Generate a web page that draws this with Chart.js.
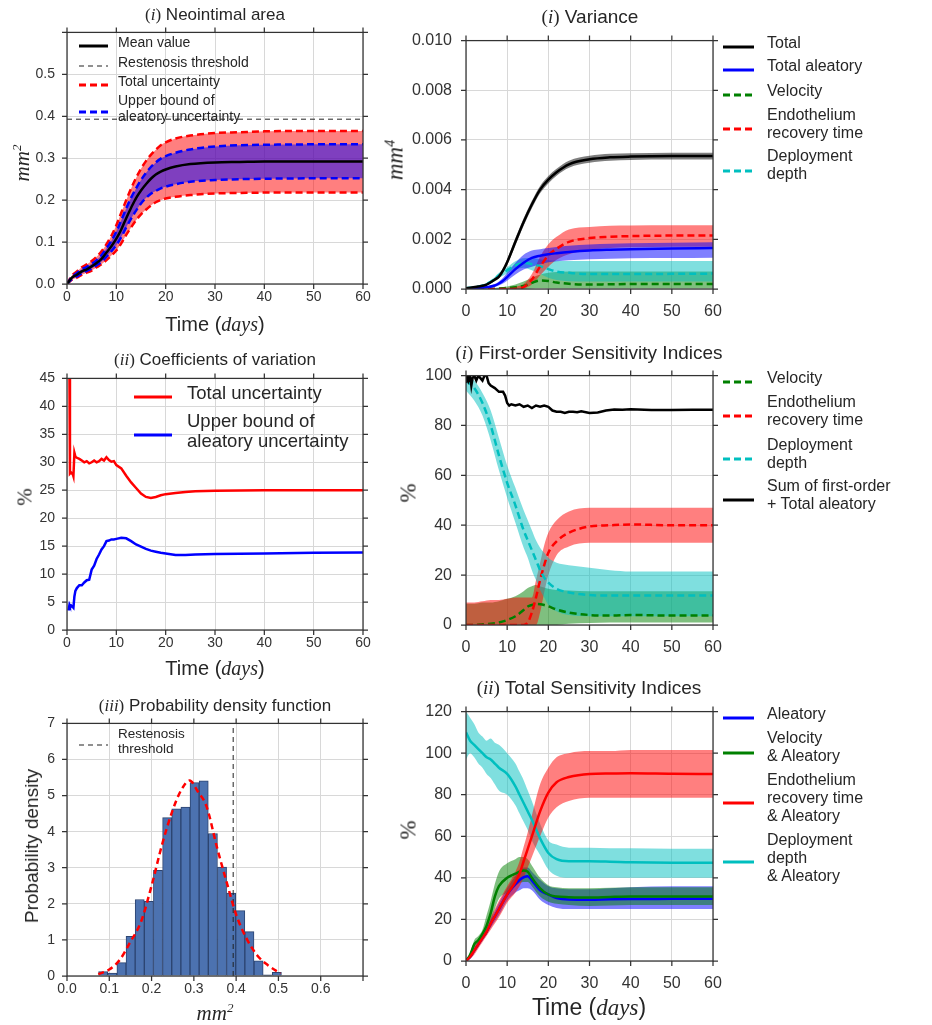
<!DOCTYPE html>
<html>
<head>
<meta charset="utf-8">
<script src="https://cdn.jsdelivr.net/npm/chart.js@4.4.1/dist/chart.umd.min.js"></script>
<style>
  body { margin: 0; width: 932px; height: 1025px; position: relative; overflow: hidden; background: #fff;
         font-family: "Liberation Sans", Arial, sans-serif; color: #262626; }
  canvas { position: absolute; }
  .txt { position: absolute; white-space: nowrap; transform: translate(-50%, -50%); }
  .rot { transform: translate(-50%, -50%) rotate(-90deg); }
  .leg { position: absolute; white-space: nowrap; }
  .m { font-family: "Liberation Serif", serif; font-style: italic; }
  .p { font-family: "Liberation Serif", serif; }
  sup { font-size: 0.62em; vertical-align: 0.55em; line-height: 0; }
</style>
</head>
<body>
<script>
// ---------- data ----------
const THRESHOLD = 0.393;

// (i) neointimal area, mm^2
const areaT = [0,1,2,3,4,5,6,7,8,9,10,11,12,13,14,15,16,17,18,19,20,22,25,30,35,40,50,60];
const areaMean = [0,0.015,0.022,0.03,0.035,0.042,0.05,0.06,0.075,0.09,0.108,0.13,0.157,0.182,0.205,0.223,0.238,0.251,0.261,0.268,0.273,0.28,0.286,0.29,0.291,0.292,0.292,0.292];
const areaTotUp = [0,0.02,0.03,0.04,0.047,0.055,0.065,0.078,0.095,0.115,0.14,0.17,0.2,0.228,0.253,0.275,0.293,0.308,0.32,0.331,0.338,0.347,0.354,0.36,0.362,0.364,0.365,0.365];
const areaTotLo = [0,0.01,0.015,0.022,0.027,0.032,0.04,0.047,0.057,0.068,0.08,0.097,0.117,0.135,0.152,0.166,0.177,0.187,0.195,0.2,0.204,0.208,0.212,0.216,0.217,0.218,0.218,0.218];
const areaAleUp = [0,0.017,0.026,0.035,0.041,0.048,0.057,0.069,0.085,0.103,0.125,0.152,0.18,0.206,0.228,0.248,0.265,0.279,0.29,0.299,0.305,0.313,0.321,0.328,0.331,0.332,0.333,0.333];
const areaAleLo = [0,0.012,0.018,0.025,0.031,0.037,0.045,0.053,0.065,0.078,0.093,0.112,0.135,0.156,0.175,0.192,0.205,0.215,0.222,0.228,0.232,0.238,0.244,0.248,0.25,0.251,0.252,0.252];
const areaLabels = ['Mean value', 'Restenosis threshold', 'Total uncertainty', 'Upper bound of<br>aleatory uncertainty'];

// (i) variance, mm^4
const varT = [0,3,5,7,8,9,10,12,14,16,18,20,22,25,30,35,40,50,60];
const varTotal = [0.00003,0.0001,0.00018,0.00038,0.0005,0.00075,0.00108,0.0019,0.0027,0.0034,0.004,0.0044,0.0047,0.00502,0.00522,0.0053,0.00533,0.00535,0.00535];
const varTotalUp = [0.00005,0.00013,0.00022,0.00044,0.00058,0.00085,0.0012,0.00205,0.00285,0.00355,0.00415,0.00455,0.00484,0.00516,0.00536,0.00544,0.00547,0.00549,0.00549];
const varTotalLo = [0.00001,0.00007,0.00014,0.00032,0.00042,0.00065,0.00096,0.00175,0.00255,0.00325,0.00385,0.00425,0.00456,0.00488,0.00508,0.00516,0.00519,0.00521,0.00521];
const varAle = [0.00002,0.00004,0.00007,0.00014,0.00022,0.00033,0.00048,0.0008,0.00106,0.00125,0.00134,0.0014,0.00144,0.00149,0.00155,0.00158,0.0016,0.00163,0.00165];
const varAleUp = [0.00003,0.00006,0.0001,0.0002,0.0003,0.00045,0.00065,0.00105,0.00138,0.00155,0.0016,0.00165,0.00169,0.00174,0.00179,0.00182,0.00184,0.00186,0.00188];
const varAleLo = [0.00001,0.00002,0.00004,0.00009,0.00014,0.00022,0.00033,0.00058,0.00078,0.0009,0.001,0.00108,0.00112,0.00116,0.0012,0.00122,0.00124,0.00125,0.00126];
const varVel = [0,0,0,0.00001,0.00002,0.00003,0.00004,0.00007,0.00012,0.00025,0.00034,0.00032,0.00026,0.00021,0.00018,0.00019,0.0002,0.0002,0.0002];
const varVelUp = [0,0.00001,0.00002,0.00004,0.00006,0.00008,0.0001,0.00018,0.0003,0.00045,0.00058,0.00065,0.00068,0.0007,0.0007,0.0007,0.0007,0.0007,0.0007];
const varVelLo = [0,0,0,0,0,0,0,0,0,0.00002,0.00003,0.00002,0.00002,0.00002,0.00002,0.00002,0.00002,0.00002,0.00002];
const varEndo = [0,0,0,0,0,0,0,0.00001,0.00008,0.00038,0.0009,0.00135,0.00162,0.0019,0.00205,0.0021,0.00213,0.00215,0.00215];
const varEndoUp = [0,0,0,0,0,0,0.00005,0.0001,0.0002,0.0006,0.0013,0.0018,0.0021,0.0024,0.0025,0.00255,0.00256,0.00257,0.00257];
const varEndoLo = [0,0,0,0,0,0,0,0,0.00002,0.00018,0.00055,0.0009,0.00118,0.0014,0.00158,0.00165,0.00168,0.0017,0.0017];
const varDepl = [0.00003,0.0001,0.0002,0.0004,0.00055,0.00065,0.00075,0.00095,0.00105,0.001,0.00092,0.0008,0.0007,0.00065,0.0006,0.0006,0.0006,0.00061,0.00062];
const varDeplUp = [0.00004,0.00013,0.00025,0.00048,0.00065,0.00077,0.00088,0.00112,0.00124,0.00125,0.0012,0.00116,0.00114,0.00113,0.00113,0.00113,0.00113,0.00113,0.00113];
const varDeplLo = [0.00002,0.00007,0.00015,0.00032,0.00045,0.00053,0.00062,0.00078,0.00086,0.00075,0.0006,0.00045,0.00036,0.00031,0.0003,0.0003,0.0003,0.0003,0.0003];
const varLabels = ['Total', 'Total aleatory', 'Velocity', 'Endothelium<br>recovery time', 'Deployment<br>depth'];

// (ii) coefficients of variation, %
const covT = [0.3,0.5,0.6,0.8,1,1.2,1.3,1.5,1.7,2,2.5,3,3.5,4,4.5,5,5.5,6,6.5,7,7.5,8,8.5,9,9.5,10,11,12,13,14,15,16,17,18,19,20,22,24,26,30,40,50,60];
const covTotal = [46,45,28,28.2,28,27.8,27.5,31.7,31,30.8,30.6,30.3,30,30.2,29.8,30,30.3,30,30.2,30.6,30.3,30.9,30.4,30.1,30.2,29.5,28.9,27.6,26.4,25.4,24.4,23.8,23.6,23.8,24.1,24.3,24.5,24.7,24.8,24.9,25,25,25];
const covAle = [3.5,4.5,4.3,4.4,4.2,4.1,4,6,7,7.5,8,8,8.5,8.9,9,10.8,11.5,12.7,13.5,14.4,15,15.9,16,16.2,16.2,16.3,16.5,16.4,15.9,15.3,14.9,14.5,14.2,14,13.8,13.7,13.4,13.4,13.5,13.6,13.7,13.8,13.85];
const covLabels = ['Total uncertainty', 'Upper bound of<br>aleatory uncertainty'];

// (i) first-order sensitivity indices, %
const sumT = [0,0.3,0.6,1,1.3,1.6,2,2.5,3,3.5,4,4.5,5,5.5,6,7,8,9,9.5,10,10.5,11,12,13,14,15,16,17,18,19,20,21,22,23,24,25,26,27,28,30,32,34,36,38,40,45,50,55,60];
const firstSum = [97,100,98,100,96,99,100,98,100,99,98,100,100,97,96,95,93.5,93.5,92,89,88,88.5,88,88.5,87.5,88,87,88,87.5,88,87.5,86,85.5,85.5,85,85.5,85.5,85.3,85.7,85,85.2,86,86.4,86.3,86.5,86.2,86.2,86.3,86.3];
const firstT = [0,2,4,6,8,10,12,14,15,16,17,18,19,20,22,25,30,35,40,50,60];
const firstVel = [0,0,0.3,0.5,1,2,3.5,6,7.4,8,8.4,8.3,8,7.5,6.2,5,4,3.8,4,3.8,3.8];
const firstVelUp = [8.5,8.5,9,9,9.5,10.5,11.5,13.5,14.8,15.5,16,15.5,15,14.5,14,13.8,13.5,13.5,13.5,13.5,13.5];
const firstVelLo = [0,0,0,0,0,0,0,0,0,0,0,0,0,0,0,0.5,0.8,1,1,1,1];
const firstEndo = [0,0,0,0,0,0,0,0,1,5,11,18,24,29,33.5,37,39.5,40,40.3,40,40];
const firstEndoUp = [9,9,9.5,10,10,10.5,11,11,11,11,18,25,32,37,42,45.5,47,47,47,47,47];
const firstEndoLo = [0,0,0,0,0,0,0,0,0,0,0,5,13,20,28,31.5,33,33,33,33,33];
const firstDepl = [98,95,89,80,68,57,48,38,34,30,26,22,19,17,14.5,13,12,11.8,11.8,11.8,11.8];
const firstDeplUp = [100,98,93,86,75,64,55,46,42,38,34,31,29,27,25,24,23,22,21.5,21.5,21.5];
const firstDeplLo = [94,90,84,74,62,51,41,31,27,22,18,14,11,8,5.5,4,3.5,3.5,3.5,3.5,3.5];
const firstLabels = ['Velocity', 'Endothelium<br>recovery time', 'Deployment<br>depth', 'Sum of first-order<br>+ Total aleatory'];

// (iii) probability density function
const histCenters = [0.0855,0.1071,0.1288,0.1504,0.172,0.1936,0.2152,0.2369,0.2585,0.2801,0.3017,0.3233,0.345,0.3666,0.3882,0.4098,0.4314,0.4531,0.4747,0.4963];
const histDensity = [0.12,0.08,0.37,1.1,2.12,2.07,2.93,4.39,4.63,4.68,5.36,5.41,3.95,3.02,2.3,1.81,1.23,0.42,0.03,0.1];
const pdfX = [0.074,0.1,0.125,0.15,0.175,0.2,0.225,0.25,0.27,0.29,0.31,0.33,0.355,0.38,0.4,0.425,0.45,0.475,0.505];
const pdfY = [0.05,0.18,0.45,0.95,1.5,2.5,3.65,4.6,5.15,5.42,5.1,4.7,3.55,2.5,1.7,1.03,0.57,0.3,0.07];
const pdfLabels = ['Restenosis<br>threshold'];

// (ii) total sensitivity indices, %
const totT = [0,1,2,3,4,5,6,7,8,10,12,13,14,15,16,18,20,22,25,30,35,40,50,60];
const totAle = [0,2,5,8,11,14,18,21.5,25,32,37,39,40.3,40.8,38.8,34,32,30.3,29.6,29.5,29.7,29.8,29.9,30];
const totAleUp = [0,3,6,9,12,15,20,24,28,35,41,43.5,45,45,43,39,36,35,34.5,34.5,35,35.5,36,36];
const totAleLo = [0,1,4,7,10,13,16,19,22,29,33,34,35,35,34,29.5,27,25.5,25,25,25,25,25,25];
const totVel = [0,3,8,10,13,17,23,31,36,40,42,43,43.5,43,40,35,32,31,30.7,30.5,30.8,31,31,31];
const totVelUp = [0,4,10,12,15,22,29,37,43,47,49,50,50,49,46,40,36.5,35.5,35,35,35.2,35.5,35.5,35.5];
const totVelLo = [0,2,6,8,11,13,18,25,30,33,36,37.5,38,38,36,31,28.5,27.5,27,26.5,26.7,27,27,27];
const totEndo = [0,2,5,8,11,14,18,21.5,25,32,38,42,48,54,60,72,81,86,88.5,90,90.2,90.3,90.1,90];
const totEndoUp = [1,3,7,10,13,16,21,25,29,36,43,48,55,62,70,85,93,98,100,101,101,101.5,101.5,101.5];
const totEndoLo = [0,1,3,6,9,12,15,18,21,28,33,36,40,45,50,60,69,74,77,78.5,78.5,78.5,78.5,78.5];
const totDepl = [110,106,104,102,100,98,97,95,93,90,84,80,76,72,68,59,52,49,48,48,47.8,47.5,47.3,47.3];
const totDeplUp = [120,117,114,110,108,106,107,105,104,100,95,91,87,82,77,66,58,56,54.5,54.5,54.3,54.2,54,54];
const totDeplLo = [97,100,98,95,93,90,88,85,82,80,75,71,67,63,58,51,44,41,40,40,40,40,40,40];
const totLabels = ['Aleatory', 'Velocity<br>&amp; Aleatory', 'Endothelium<br>recovery time<br>&amp; Aleatory', 'Deployment<br>depth<br>&amp; Aleatory'];

// ---------- style ----------
const C = { k: '#000000', b: '#0000ff', g: '#008000', r: '#ff0000', c: '#00bfbf' };
const FILL = { k: 'rgba(0,0,0,0.5)', b: 'rgba(0,0,255,0.5)', g: 'rgba(0,128,0,0.5)', r: 'rgba(255,0,0,0.5)', c: 'rgba(0,191,191,0.5)' };
const GRID = '#d8d8d8';
const TICKC = '#333333';
const DASH = [7, 4];

// plot areas in page pixels
const BOX = {
  area:  { l: 67,  t: 24,  r: 363, b: 284 },
  cov:   { l: 67,  t: 370, r: 363, b: 630 },
  pdf:   { l: 67,  t: 715, r: 363, b: 976 },
  vari:  { l: 466, t: 29,  r: 713, b: 289 },
  first: { l: 466, t: 364, r: 713, b: 625 },
  total: { l: 466, t: 700, r: 713, b: 961 }
};

const pts = (xs, ys) => xs.map((x, i) => ({ x: x, y: ys[i] }));

function lineDs(xs, ys, color, order, dash, width, smooth) {
  return {
    type: 'line', data: pts(xs, ys), borderColor: color, borderWidth: width || 2.5,
    borderDash: dash || [], pointRadius: 0, fill: false, order: order,
    cubicInterpolationMode: smooth === false ? 'default' : 'monotone', tension: 0
  };
}
function bandDs(xs, lo, hi, fill, order) {
  return [
    { type: 'line', data: pts(xs, hi), borderWidth: 0, pointRadius: 0, fill: '+1', backgroundColor: fill, order: order, cubicInterpolationMode: 'monotone' },
    { type: 'line', data: pts(xs, lo), borderWidth: 0, pointRadius: 0, fill: false, order: order, cubicInterpolationMode: 'monotone' }
  ];
}

// frame + outward ticks on all four sides
const framePlugin = {
  id: 'frame',
  afterDraw(chart) {
    const { ctx, chartArea: a, scales } = chart;
    ctx.save();
    ctx.strokeStyle = '#333';
    ctx.lineWidth = 1.25;
    ctx.strokeRect(a.left, a.top, a.right - a.left, a.bottom - a.top);
    ctx.beginPath();
    scales.x.ticks.forEach(t => {
      const p = scales.x.getPixelForValue(t.value);
      ctx.moveTo(p, a.bottom); ctx.lineTo(p, a.bottom + 5);
      ctx.moveTo(p, a.top); ctx.lineTo(p, a.top - 5);
    });
    scales.y.ticks.forEach(t => {
      const p = scales.y.getPixelForValue(t.value);
      ctx.moveTo(a.left, p); ctx.lineTo(a.left - 5, p);
      ctx.moveTo(a.right, p); ctx.lineTo(a.right + 5, p);
    });
    ctx.stroke();
    ctx.restore();
  }
};

function makeChart(box, o) {
  const c = document.createElement('canvas');
  c.width = box.r - box.l + 85;
  c.height = box.b - box.t + 52;
  c.style.left = (box.l - 60) + 'px';
  c.style.top = (box.t - 12) + 'px';
  document.body.appendChild(c);
  const font = { family: 'Liberation Sans', size: o.fs };
  return new Chart(c, {
    type: o.type || 'line',
    data: { datasets: o.datasets },
    options: {
      responsive: false, animation: false, events: [],
      layout: { padding: { left: 0, top: 12, right: 25, bottom: 0 } },
      plugins: { legend: { display: false }, tooltip: { enabled: false } },
      scales: {
        x: {
          type: 'linear', min: o.x[0], max: o.x[1], offset: false,
          grid: { color: GRID, drawTicks: false, offset: false }, border: { display: false },
          ticks: { stepSize: o.x[2], font: font, color: TICKC, padding: o.xpad, autoSkip: false, maxRotation: 0,
                   callback: o.xfmt || (v => v) },
          afterFit: s => { s.height = 40; }
        },
        y: {
          type: 'linear', min: o.y[0], max: o.y[1],
          grid: { color: GRID, drawTicks: false }, border: { display: false },
          ticks: { stepSize: o.y[2], font: font, color: TICKC, padding: o.ypad, autoSkip: false,
                   callback: o.yfmt || (v => v) },
          afterFit: s => { s.width = 60; }
        }
      }
    },
    plugins: [framePlugin]
  });
}

// ---------- html text helpers ----------
function addText(html, x, y, css, rot) {
  const d = document.createElement('div');
  d.className = 'txt' + (rot ? ' rot' : '');
  d.style.left = x + 'px';
  d.style.top = y + 'px';
  d.style.cssText += css;
  d.innerHTML = html;
  document.body.appendChild(d);
}
function addLegend(items, sx1, sx2, tx, fs, lh) {
  items.forEach(it => {
    const w = sx2 - sx1;
    const dash = it.dash ? `stroke-dasharray="${it.dash}"` : '';
    const s = document.createElement('div');
    s.className = 'leg';
    s.style.left = sx1 + 'px';
    s.style.top = (it.sy - 5) + 'px';
    s.innerHTML = `<svg width="${w}" height="10"><line x1="0" y1="5" x2="${w}" y2="5" stroke="${it.color}" stroke-width="${it.w || 3}" ${dash}/></svg>`;
    document.body.appendChild(s);
    const t = document.createElement('div');
    t.className = 'leg';
    t.style.left = tx + 'px';
    t.style.top = (it.ty - lh / 2) + 'px';
    t.style.fontSize = fs + 'px';
    t.style.lineHeight = lh + 'px';
    t.innerHTML = it.label;
    document.body.appendChild(t);
  });
}
const TIME = 'Time (<span class="m">days</span>)';

// ---------- (i) neointimal area ----------
makeChart(BOX.area, {
  fs: 14, xpad: 5, ypad: 12, x: [0, 60, 10], y: [0, 0.6, 0.1],
  yfmt: v => v > 0.55 ? '' : v.toFixed(1),
  datasets: [
    lineDs(areaT, areaMean, C.k, 0, [], 2.5),
    lineDs([0, 60], [THRESHOLD, THRESHOLD], '#222', 1, [5, 4], 1, false),
    lineDs(areaT, areaAleUp, C.b, 2, DASH, 2.5),
    lineDs(areaT, areaAleLo, C.b, 2, DASH, 2.5),
    lineDs(areaT, areaTotUp, C.r, 3, DASH, 2.5),
    lineDs(areaT, areaTotLo, C.r, 3, DASH, 2.5),
    ...bandDs(areaT, areaAleLo, areaAleUp, FILL.b, 4),
    ...bandDs(areaT, areaTotLo, areaTotUp, FILL.r, 5)
  ]
});
addText('<span class="p">(<i>i</i>)</span> Neointimal area', 215, 15, 'font-size:17px;');
addText(TIME, 215, 324, 'font-size:20px;');
addText('<span class="m">mm<sup>2</sup></span>', 22, 163, 'font-size:21px;', true);
addLegend([
  { label: areaLabels[0], color: C.k, sy: 42, ty: 42 },
  { label: areaLabels[1], color: '#222', dash: '5 4', w: 1.2, sy: 62, ty: 62 },
  { label: areaLabels[2], color: C.r, dash: '7 4', sy: 81, ty: 81 },
  { label: areaLabels[3], color: C.b, dash: '7 4', sy: 108, ty: 100 }
], 79, 108, 118, 14, 16);

// ---------- (ii) coefficients of variation ----------
makeChart(BOX.cov, {
  fs: 14, xpad: 5, ypad: 12, x: [0, 60, 10], y: [0, 45, 5],
  datasets: [
    lineDs(covT, covTotal, C.r, 0, [], 2.5, false),
    lineDs(covT, covAle, C.b, 1, [], 2.5, false)
  ]
});
addText('<span class="p">(<i>ii</i>)</span> Coefficients of variation', 215, 360, 'font-size:17px;');
addText(TIME, 215, 668, 'font-size:20px;');
addText('<span class="p">%</span>', 25, 497, 'font-size:21px;', true);
addLegend([
  { label: covLabels[0], color: C.r, sy: 393, ty: 393 },
  { label: covLabels[1], color: C.b, sy: 431, ty: 421 }
], 134, 172, 187, 18.5, 20);

// ---------- (iii) probability density function ----------
makeChart(BOX.pdf, {
  type: 'bar', fs: 14, xpad: 5, ypad: 12, x: [0, 0.7, 0.1], y: [0, 7, 1],
  xfmt: v => v > 0.65 ? '' : v.toFixed(1),
  datasets: [
    lineDs(pdfX, pdfY, C.r, 0, [6, 4], 2.5),
    lineDs([THRESHOLD, THRESHOLD], [0, 7], '#222', 1, [5, 4], 1, false),
    { type: 'bar', data: pts(histCenters, histDensity), backgroundColor: '#4c72b0',
      borderColor: '#2c4470', borderWidth: 1, barPercentage: 1, categoryPercentage: 1, order: 2 }
  ]
});
addText('<span class="p">(<i>iii</i>)</span> Probability density function', 215, 706, 'font-size:17px;');
addText('<span class="m">mm<sup>2</sup></span>', 215, 1013, 'font-size:21px;');
addText('Probability density', 32, 846, 'font-size:19px;', true);
addLegend([
  { label: pdfLabels[0], color: '#222', dash: '5 4', w: 1.2, sy: 741, ty: 733 }
], 79, 108, 118, 13.5, 15);

// ---------- (i) variance ----------
makeChart(BOX.vari, {
  fs: 16, xpad: 13, ypad: 14, x: [0, 60, 10], y: [0, 0.01, 0.002],
  yfmt: v => v.toFixed(3),
  datasets: [
    lineDs(varT, varTotal, C.k, 0, [], 2.5),
    lineDs(varT, varAle, C.b, 1, [], 2.5),
    lineDs(varT, varEndo, C.r, 2, DASH, 2.5),
    lineDs(varT, varDepl, C.c, 3, DASH, 2.5),
    lineDs(varT, varVel, C.g, 4, DASH, 2.5),
    ...bandDs(varT, varTotalLo, varTotalUp, FILL.k, 5),
    ...bandDs(varT, varAleLo, varAleUp, FILL.b, 6),
    ...bandDs(varT, varEndoLo, varEndoUp, FILL.r, 7),
    ...bandDs(varT, varDeplLo, varDeplUp, FILL.c, 8),
    ...bandDs(varT, varVelLo, varVelUp, FILL.g, 9)
  ]
});
addText('<span class="p">(<i>i</i>)</span> Variance', 590, 17, 'font-size:19px;');
addText('<span class="m">mm<sup>4</sup></span>', 395, 160, 'font-size:23px;', true);
addLegend([
  { label: varLabels[0], color: C.k, sy: 43, ty: 43 },
  { label: varLabels[1], color: C.b, sy: 66, ty: 66 },
  { label: varLabels[2], color: C.g, dash: '7 4', sy: 91, ty: 91 },
  { label: varLabels[3], color: C.r, dash: '7 4', sy: 125, ty: 115 },
  { label: varLabels[4], color: C.c, dash: '7 4', sy: 167, ty: 156 }
], 723, 754, 767, 16, 18);

// ---------- (i) first-order sensitivity indices ----------
makeChart(BOX.first, {
  fs: 16, xpad: 13, ypad: 14, x: [0, 60, 10], y: [0, 100, 20],
  datasets: [
    lineDs(sumT, firstSum, C.k, 0, [], 2.5, false),
    lineDs(firstT, firstDepl, C.c, 1, DASH, 2.5),
    lineDs(firstT, firstEndo, C.r, 2, DASH, 2.5),
    lineDs(firstT, firstVel, C.g, 3, DASH, 2.5),
    ...bandDs(firstT, firstDeplLo, firstDeplUp, FILL.c, 4),
    ...bandDs(firstT, firstEndoLo, firstEndoUp, FILL.r, 5),
    ...bandDs(firstT, firstVelLo, firstVelUp, FILL.g, 6)
  ]
});
addText('<span class="p">(<i>i</i>)</span> First-order Sensitivity Indices', 589, 353, 'font-size:19px;');
addText('<span class="p">%</span>', 408, 493, 'font-size:23px;', true);
addLegend([
  { label: firstLabels[0], color: C.g, dash: '7 4', sy: 378, ty: 378 },
  { label: firstLabels[1], color: C.r, dash: '7 4', sy: 412, ty: 402 },
  { label: firstLabels[2], color: C.c, dash: '7 4', sy: 455, ty: 445 },
  { label: firstLabels[3], color: C.k, sy: 496, ty: 486 }
], 723, 754, 767, 16, 18);

// ---------- (ii) total sensitivity indices ----------
makeChart(BOX.total, {
  fs: 16, xpad: 13, ypad: 14, x: [0, 60, 10], y: [0, 120, 20],
  datasets: [
    lineDs(totT, totEndo, C.r, 0, [], 2.5),
    lineDs(totT, totDepl, C.c, 1, [], 2.5),
    lineDs(totT, totVel, C.g, 2, [], 2.5),
    lineDs(totT, totAle, C.b, 3, [], 2.5),
    ...bandDs(totT, totEndoLo, totEndoUp, FILL.r, 4),
    ...bandDs(totT, totDeplLo, totDeplUp, FILL.c, 5),
    ...bandDs(totT, totVelLo, totVelUp, FILL.g, 6),
    ...bandDs(totT, totAleLo, totAleUp, FILL.b, 7)
  ]
});
addText('<span class="p">(<i>ii</i>)</span> Total Sensitivity Indices', 589, 688, 'font-size:19px;');
addText(TIME, 589, 1007, 'font-size:23px;');
addText('<span class="p">%</span>', 408, 830, 'font-size:23px;', true);
addLegend([
  { label: totLabels[0], color: C.b, sy: 714, ty: 714 },
  { label: totLabels[1], color: C.g, sy: 749, ty: 738 },
  { label: totLabels[2], color: C.r, sy: 799, ty: 780 },
  { label: totLabels[3], color: C.c, sy: 858, ty: 840 }
], 723, 754, 767, 16, 18);
</script>
</body>
</html>
